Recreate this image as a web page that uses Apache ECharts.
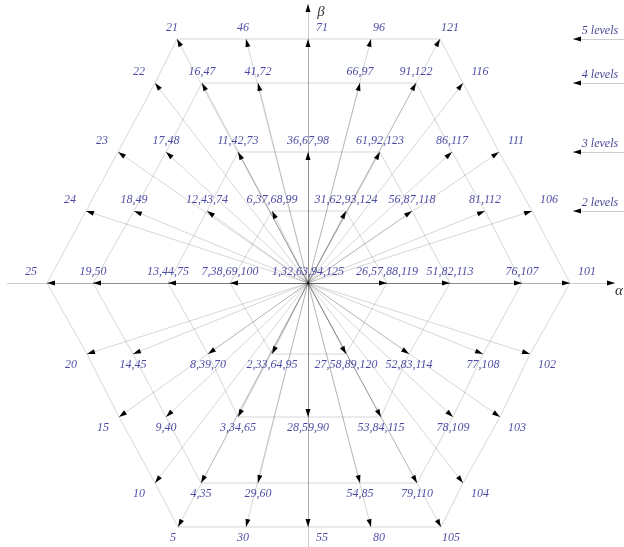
<!DOCTYPE html>
<html><head><meta charset="utf-8">
<script src="https://cdn.jsdelivr.net/npm/echarts@6/dist/echarts.min.js"></script>
<style>html,body{margin:0;padding:0;background:#fff}#c{width:624px;height:547px}</style>
</head><body><div id="c"></div>
<script>
// Lattice rows from top (beta level +4) to bottom (beta level -4)
const rowLevel = [4, 3, 2, 1, 0, -1, -2, -3, -4];
const rowBeta = [244, 200, 131, 72, 0, -71, -134, -200, -244];
const rowAlpha = [
  [-131, -62, 0, 63, 132],
  [-153, -106, -50, 52, 108, 155],
  [-190, -142, -70, 0, 72, 144, 191],
  [-222, -174, -101, -36, 38, 104, 177, 224],
  [-261, -215, -140, -78, 0, 79, 142, 214, 262],
  [-221, -175, -100, -36, 38, 101, 175, 222],
  [-189, -142, -70, 0, 73, 145, 192],
  [-153, -107, -50, 52, 109, 155],
  [-130, -62, 0, 63, 133]
];
const rowLabels = [
  ['21', '46', '71', '96', '121'],
  ['22', '16,47', '41,72', '66,97', '91,122', '116'],
  ['23', '17,48', '11,42,73', '36,67,98', '61,92,123', '86,117', '111'],
  ['24', '18,49', '12,43,74', '6,37,68,99', '31,62,93,124', '56,87,118', '81,112', '106'],
  ['25', '19,50', '13,44,75', '7,38,69,100', '1,32,63,94,125', '26,57,88,119', '51,82,113', '76,107', '101'],
  ['20', '14,45', '8,39,70', '2,33,64,95', '27,58,89,120', '52,83,114', '77,108', '102'],
  ['15', '9,40', '3,34,65', '28,59,90', '53,84,115', '78,109', '103'],
  ['10', '4,35', '29,60', '54,85', '79,110', '104'],
  ['5', '30', '55', '80', '105']
];
const levelNames = ['5 levels', '4 levels', '3 levels', '2 levels'];
const levelRows = [4, 3, 2, 1];
const axisNames = ['α', 'β'];

// ---- build lattice points ----
const pts = [];
rowLevel.forEach((j, r) => {
  rowAlpha[r].forEach((x, m) => {
    const q = j >= 0 ? m - 4 : m - 4 - j;
    const dist = Math.max(Math.abs(q), Math.abs(j), Math.abs(q + j));
    const ang = Math.atan2(j * Math.sqrt(3) / 2, q + j / 2);
    pts.push({ x, y: rowBeta[r], j, m, label: rowLabels[r][m], dist, ang });
  });
});

// nested hexagons
const rings = [];
for (let k = 1; k <= 4; k++) {
  const ring = pts.filter(p => p.dist === k).sort((a, b) => a.ang - b.ang);
  const coords = ring.map(p => [p.x, p.y]);
  coords.push(coords[0]);
  rings.push({ coords });
}

// vectors from origin
const vecs = pts.filter(p => p.dist > 0).map(p => ({ coords: [[0, 0], [p.x, p.y]] }));

const betaOf = lvl => rowBeta[rowLevel.indexOf(lvl)];
const axes = [
  { coords: [[-301, 0], [307, 0]] },
  { coords: [[0, -264], [0, 279]] }
];
const levelLines = levelRows.map(l => ({ coords: [[316, betaOf(l)], [265, betaOf(l)]] }));

// arrowheads: segments shortened so triangle tip lands at the end point
const HEAD = 8;
function shorten(c) {
  const [a, b] = c;
  const dx = b[0] - a[0], dy = b[1] - a[1];
  const L = Math.hypot(dx, dy);
  return { coords: [a, [b[0] - dx / L * HEAD / 2, b[1] - dy / L * HEAD / 2]] };
}
const heads = vecs.concat(axes, levelLines).map(d => shorten(d.coords));

// label offsets
const topRowDx = [-5, -3, 14, 8, 10];
const labelData = pts.map(p => {
  let dx = 0;
  if (Math.abs(p.j) === 4) dx = topRowDx[p.m];
  else if (p.dist === 4) dx = p.m === 0 ? -16 : 17;
  const dy = p.j >= 0 ? -11 : 11;
  return { value: [p.x, p.y], name: p.label, label: { offset: [dx, dy] } };
});

const serif = "'Liberation Serif','Times New Roman',serif";
const lineGray = 'rgba(0,0,0,0.32)';

const chart = echarts.init(document.getElementById('c'), null, { renderer: 'canvas' });
chart.setOption({
  animation: false,
  backgroundColor: '#fff',
  grid: { left: 0, right: 0, top: 0, bottom: 0 },
  xAxis: { type: 'value', min: -308, max: 316, show: false },
  yAxis: { type: 'value', min: -264, max: 283, show: false },
  series: [
    { type: 'lines', coordinateSystem: 'cartesian2d', polyline: true, silent: true,
      lineStyle: { color: lineGray, width: 1 }, data: rings },
    { type: 'lines', coordinateSystem: 'cartesian2d', silent: true,
      lineStyle: { color: lineGray, width: 1 }, data: vecs },
    { type: 'lines', coordinateSystem: 'cartesian2d', silent: true,
      lineStyle: { color: 'rgba(0,0,0,0.38)', width: 1 }, data: axes.concat(levelLines) },
    { type: 'lines', coordinateSystem: 'cartesian2d', silent: true, z: 5,
      symbol: ['none', 'triangle'], symbolSize: [[5, HEAD], [5, HEAD]],
      lineStyle: { color: '#000', width: 0, opacity: 1 }, data: heads },
    { type: 'scatter', silent: true, symbol: 'circle', symbolSize: 1, z: 6,
      itemStyle: { color: 'rgba(0,0,0,0)' },
      label: { show: true, position: 'inside', formatter: '{b}', color: '#1c1c8c',
        fontFamily: serif, fontStyle: 'italic', fontSize: 12 },
      data: labelData },
    { type: 'scatter', silent: true, symbol: 'circle', symbolSize: 1, z: 6,
      itemStyle: { color: 'rgba(0,0,0,0)' },
      label: { show: true, position: 'inside', formatter: '{b}', color: '#14147a',
        fontFamily: serif, fontStyle: 'italic', fontSize: 12 },
      data: levelRows.map((l, i) => ({ value: [292, betaOf(l) + 8], name: levelNames[i] })) },
    { type: 'scatter', silent: true, symbol: 'circle', symbolSize: 1, z: 6,
      itemStyle: { color: 'rgba(0,0,0,0)' },
      label: { show: true, position: 'inside', formatter: '{b}', color: '#000',
        fontFamily: serif, fontStyle: 'italic', fontSize: 15 },
      data: [{ value: [311, -8], name: axisNames[0] }, { value: [13, 271], name: axisNames[1] }] }
  ]
});
</script>
</body></html>
